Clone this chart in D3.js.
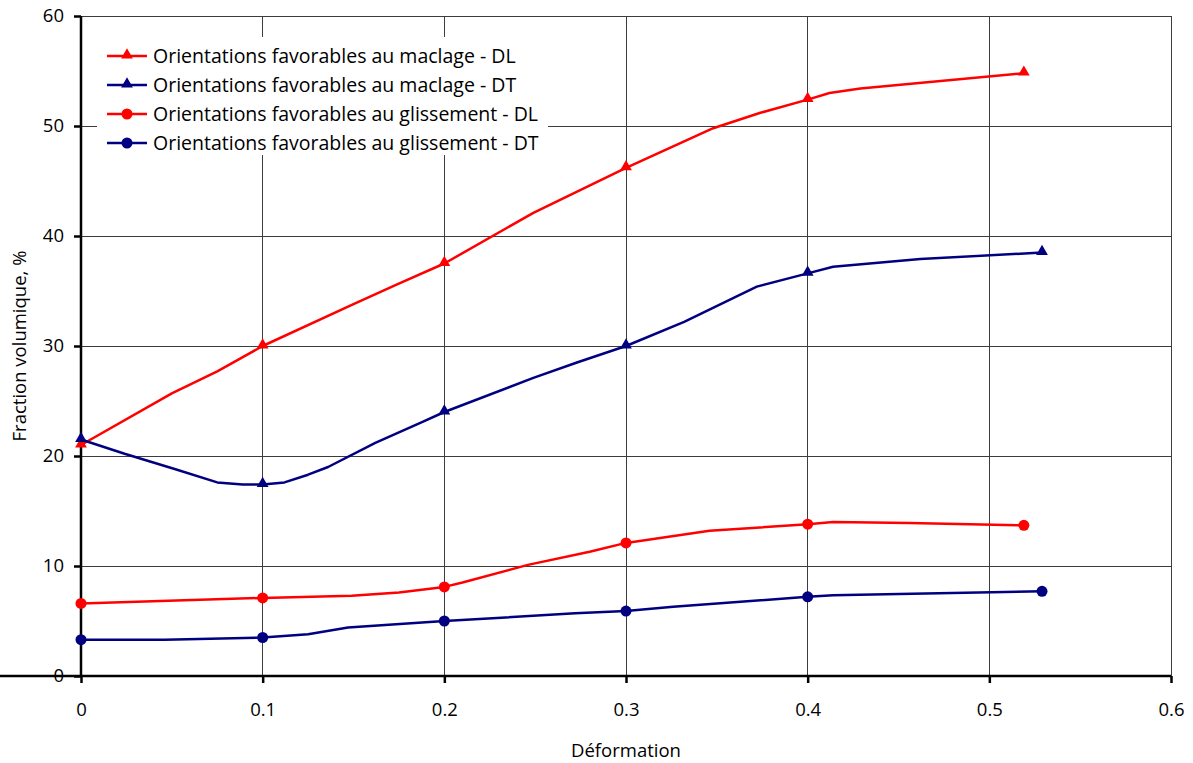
<!DOCTYPE html>
<html><head><meta charset="utf-8">
<script src="https://cdn.jsdelivr.net/npm/d3@7"></script>
<style>body{margin:0;background:#fff}svg{display:block}text{font-family:"Open Sans",sans-serif;fill:#000}</style>
</head><body><svg id="c" width="1193" height="763"></svg>
<script>
// Marker points
const maclageDL_pts = [[0,21],[0.1,30],[0.2,37.5],[0.3,46.2],[0.4,52.4],[0.519,54.8]];
const maclageDT_pts = [[0,21.5],[0.1,17.4],[0.2,24],[0.3,30],[0.4,36.6],[0.529,38.5]];
const glissDL_pts = [[0,6.6],[0.1,7.1],[0.2,8.1],[0.3,12.1],[0.4,13.8],[0.519,13.7]];
const glissDT_pts = [[0,3.3],[0.1,3.5],[0.2,5.0],[0.3,5.9],[0.4,7.2],[0.529,7.7]];
// Line vertices
const maclageDL_line = [[0,21],[0.05,25.7],[0.075,27.7],[0.1,30],[0.15,33.8],[0.174,35.6],[0.2,37.5],[0.249,42.1],[0.3,46.2],[0.348,49.8],[0.374,51.2],[0.4,52.4],[0.412,53],[0.429,53.4],[0.519,54.8]];
const maclageDT_line = [[0,21.5],[0.024,20.2],[0.052,18.8],[0.075,17.6],[0.089,17.4],[0.1,17.4],[0.112,17.6],[0.125,18.3],[0.136,19.0],[0.162,21.2],[0.188,23.1],[0.2,24],[0.249,27.1],[0.273,28.5],[0.3,30],[0.332,32.2],[0.372,35.4],[0.4,36.6],[0.414,37.2],[0.462,37.9],[0.529,38.5]];
const glissDL_line = [[0,6.6],[0.1,7.1],[0.149,7.3],[0.175,7.6],[0.2,8.1],[0.21,8.5],[0.246,10.1],[0.28,11.3],[0.3,12.1],[0.346,13.2],[0.4,13.8],[0.414,14.0],[0.456,13.9],[0.519,13.7]];
const glissDT_line = [[0,3.3],[0.046,3.3],[0.1,3.5],[0.125,3.8],[0.147,4.4],[0.2,5.0],[0.272,5.7],[0.3,5.9],[0.326,6.3],[0.4,7.2],[0.414,7.35],[0.529,7.7]];
const seriesNames = ["Orientations favorables au maclage - DL","Orientations favorables au maclage - DT","Orientations favorables au glissement - DL","Orientations favorables au glissement - DT"];
const xTicks = [0,0.1,0.2,0.3,0.4,0.5,0.6];
const yTicks = [0,10,20,30,40,50,60];

const series = [
  {name:seriesNames[0], line:maclageDL_line, pts:maclageDL_pts, color:"#FF0000", marker:"tri"},
  {name:seriesNames[1], line:maclageDT_line, pts:maclageDT_pts, color:"#000080", marker:"tri"},
  {name:seriesNames[2], line:glissDL_line, pts:glissDL_pts, color:"#FF0000", marker:"circ"},
  {name:seriesNames[3], line:glissDT_line, pts:glissDT_pts, color:"#000080", marker:"circ"}
];

const svg = d3.select("#c");
const L=81, R=1171, T=16, B=676;
const x = d3.scaleLinear().domain([0,0.6]).range([L,R]);
const y = d3.scaleLinear().domain([0,60]).range([B,T]);

// gridlines
svg.append("g").selectAll("line").data(yTicks).join("line")
  .attr("x1",L).attr("x2",R).attr("y1",d=>y(d)).attr("y2",d=>y(d))
  .attr("stroke","#3c3c3c").attr("stroke-width",1).attr("shape-rendering","crispEdges");
svg.append("g").selectAll("line").data(xTicks).join("line")
  .attr("y1",T).attr("y2",B).attr("x1",d=>x(d)).attr("x2",d=>x(d))
  .attr("stroke","#3c3c3c").attr("stroke-width",1).attr("shape-rendering","crispEdges");

// axes
const xa = svg.append("g").attr("transform",`translate(0,${B})`)
  .call(d3.axisBottom(x).tickValues(xTicks).tickSize(7).tickPadding(20).tickFormat(d=>d===0?"0":d3.format(".1f")(d)));
const ya = svg.append("g").attr("transform",`translate(${L},0)`)
  .call(d3.axisLeft(y).tickValues(yTicks).tickSize(7).tickPadding(10).tickFormat(d3.format("d")));
[xa,ya].forEach(a=>{
  a.select(".domain").attr("stroke","#000").attr("stroke-width",2.5);
  a.selectAll(".tick line").attr("stroke","#000").attr("stroke-width",2.5);
  a.selectAll("text").attr("font-size",18.5).attr("font-family","'Open Sans', sans-serif").attr("fill","#000");
});
ya.select(".domain").attr("d",`M0,${B}V${T}`);
xa.select(".domain").attr("d",`M0,0H${R}`);

// axis titles
svg.append("text").attr("x",626).attr("y",757).attr("text-anchor","middle").attr("font-size",18.5).text("Déformation");
svg.append("text").attr("transform",`translate(26,${(T+B)/2}) rotate(-90)`).attr("text-anchor","middle").attr("font-size",18.5).text("Fraction volumique, %");

// lines
const lineGen = d3.line().x(d=>x(d[0])).y(d=>y(d[1])).curve(d3.curveLinear);
const tri = d3.symbol().type(d3.symbolTriangle).size(60);
series.forEach(s=>{
  svg.append("path").attr("d",lineGen(s.line)).attr("fill","none").attr("stroke",s.color).attr("stroke-width",2.5).attr("stroke-linejoin","round");
  const g = svg.append("g");
  if(s.marker==="tri"){
    g.selectAll("path").data(s.pts).join("path").attr("d",tri).attr("fill",s.color)
      .attr("transform",d=>`translate(${x(d[0])},${y(d[1])-1})`);
  } else {
    g.selectAll("circle").data(s.pts).join("circle").attr("cx",d=>x(d[0])).attr("cy",d=>y(d[1])).attr("r",5.5).attr("fill",s.color);
  }
});

// legend
const lg = svg.append("g");
lg.append("rect").attr("x",97).attr("y",37).attr("width",451).attr("height",118).attr("fill","#fff");
const rowsY = [56,85,114,143];
series.forEach((s,i)=>{
  const yy = rowsY[i];
  lg.append("line").attr("x1",107).attr("x2",147).attr("y1",yy).attr("y2",yy).attr("stroke",s.color).attr("stroke-width",2.5);
  if(s.marker==="tri") lg.append("path").attr("d",tri).attr("fill",s.color).attr("transform",`translate(127,${yy-1})`);
  else lg.append("circle").attr("cx",127).attr("cy",yy).attr("r",5.5).attr("fill",s.color);
  lg.append("text").attr("x",153).attr("y",yy).attr("dy","0.35em").attr("font-size",19.5).text(s.name);
});
</script></body></html>
